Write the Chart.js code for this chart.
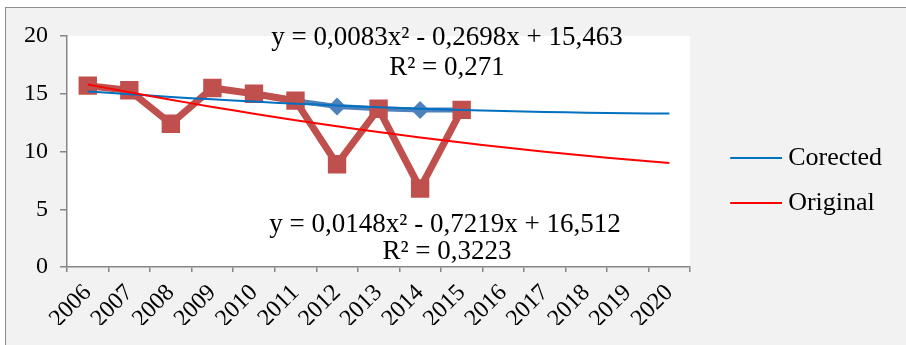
<!DOCTYPE html>
<html>
<head>
<meta charset="utf-8">
<title>Corected / Original</title>
<script src="https://cdn.jsdelivr.net/npm/chart.js@4.4.1/dist/chart.umd.min.js"></script>
<style>
  body { margin: 0; background: #fff; }
  #frame { position: absolute; left: 5px; top: 7px; width: 920px; height: 360px;
           background: #f2f2f2; border-left: 1px solid #8c8c8c; border-top: 1px solid #8c8c8c; }
  #chart { display: block; }
</style>
</head>
<body>
<div id="frame"><canvas id="chart" width="900" height="337"></canvas></div>
<script>
// categories
var years = ['2006', '2007', '2008', '2009', '2010', '2011', '2012', '2013',
             '2014', '2015', '2016', '2017', '2018', '2019', '2020'];
// series values
var corected = [15.7, 15.3, 12.4, 15.5, 15.0, 14.4, 13.9, 13.7, 13.6, 13.6];
var original = [15.7, 15.3, 12.4, 15.5, 15.0, 14.4, 8.9, 13.7, 6.8, 13.6];
// polynomial trendline coefficients as printed on the chart (a, b, c)
var trendCorected = [0.0083, -0.2698, 15.463];
var trendOriginal = [0.0148, -0.7219, 16.512];
var legendNames = ['Corected', 'Original'];
var equations = [
    'y = 0,0083x\u00b2 - 0,2698x + 15,463', 'R\u00b2 = 0,271',
    'y = 0,0148x\u00b2 - 0,7219x + 16,512', 'R\u00b2 = 0,3223'
];
// y axis ticks
var yMin = 0, yMax = 20, yStep = 5;

var serif = 'Liberation Serif';
var axisGray = '#868686';

function trend(coef) {
    return years.map(function (y, i) {
        var x = i + 1;
        return coef[0] * x * x + coef[1] * x + coef[2];
    });
}

// legend swatch: a short line with some empty room on its left
function lineSwatch(color) {
    var c = document.createElement('canvas');
    c.width = 80;
    c.height = 2;
    var g = c.getContext('2d');
    g.fillStyle = color;
    g.fillRect(28, 0, 52, 2);
    return c;
}

// white plot area on the grey chart background
var plotBg = {
    id: 'plotBg',
    beforeDraw: function (chart) {
        var a = chart.chartArea, c = chart.ctx;
        c.save();
        c.fillStyle = '#ffffff';
        c.fillRect(a.left, a.top, a.right - a.left, a.bottom - a.top);
        c.restore();
    }
};

// trendline equations
var notes = {
    id: 'notes',
    afterDatasetsDraw: function (chart) {
        var c = chart.ctx;
        var pos = [[441, 30], [441, 60], [439, 217], [441, 244]];
        c.save();
        c.font = '27px "' + serif + '"';
        c.fillStyle = '#000';
        c.textAlign = 'center';
        c.textBaseline = 'middle';
        equations.forEach(function (t, i) {
            c.fillText(t, pos[i][0], pos[i][1]);
        });
        c.restore();
    }
};

var ctx = document.getElementById('chart').getContext('2d');
var chart = new Chart(ctx, {
    type: 'line',
    data: {
        labels: years,
        datasets: [{
            label: 'Corected data',
            data: corected,
            borderColor: '#4f81bd',
            backgroundColor: '#4f81bd',
            borderWidth: 5,
            pointStyle: 'rectRot',
            pointRadius: 9,
            pointBorderWidth: 0,
            order: 4
        }, {
            label: 'Original data',
            data: original,
            borderColor: '#c0504d',
            backgroundColor: '#c0504d',
            borderWidth: 7,
            pointStyle: 'rect',
            pointRadius: 13,
            pointBorderWidth: 0,
            order: 3
        }, {
            label: legendNames[0],
            data: trend(trendCorected),
            borderColor: '#0070c0',
            borderWidth: 2,
            pointRadius: 0,
            tension: 0.3,
            order: 2
        }, {
            label: legendNames[1],
            data: trend(trendOriginal),
            borderColor: '#ff0000',
            borderWidth: 2,
            pointRadius: 0,
            tension: 0.3,
            order: 1
        }]
    },
    options: {
        responsive: false,
        animation: false,
        layout: { padding: { top: 28, left: 0, right: 14, bottom: 20 } },
        plugins: {
            tooltip: { enabled: false },
            legend: {
                position: 'right',
                labels: {
                    usePointStyle: true,
                    pointStyleWidth: 66,
                    padding: 19,
                    color: '#000',
                    font: { family: serif, size: 26 },
                    generateLabels: function (chart) {
                        return [2, 3].map(function (i) {
                            var ds = chart.data.datasets[i];
                            return { text: ds.label, pointStyle: lineSwatch(ds.borderColor),
                                     fillStyle: ds.borderColor, strokeStyle: ds.borderColor,
                                     lineWidth: 0, datasetIndex: i, hidden: false };
                        });
                    }
                }
            }
        },
        scales: {
            x: {
                offset: true,
                grid: { offset: true, drawOnChartArea: false, tickLength: 5, color: axisGray, lineWidth: 1.5 },
                border: { color: axisGray, width: 1.5 },
                ticks: { color: '#000', font: { family: serif, size: 24 }, minRotation: 45, maxRotation: 45,
                         autoSkip: false, padding: 7 },
                afterFit: function (s) { s.height = 58; }
            },
            y: {
                min: yMin,
                max: yMax,
                grid: { drawOnChartArea: false, tickLength: 7, color: axisGray, lineWidth: 1.5 },
                border: { color: axisGray, width: 1.5 },
                ticks: { stepSize: yStep, color: '#000', font: { family: serif, size: 24 }, padding: 12 },
                afterFit: function (s) { s.width = 61; }
            }
        }
    },
    plugins: [plotBg, notes]
});
</script>
</body>
</html>
